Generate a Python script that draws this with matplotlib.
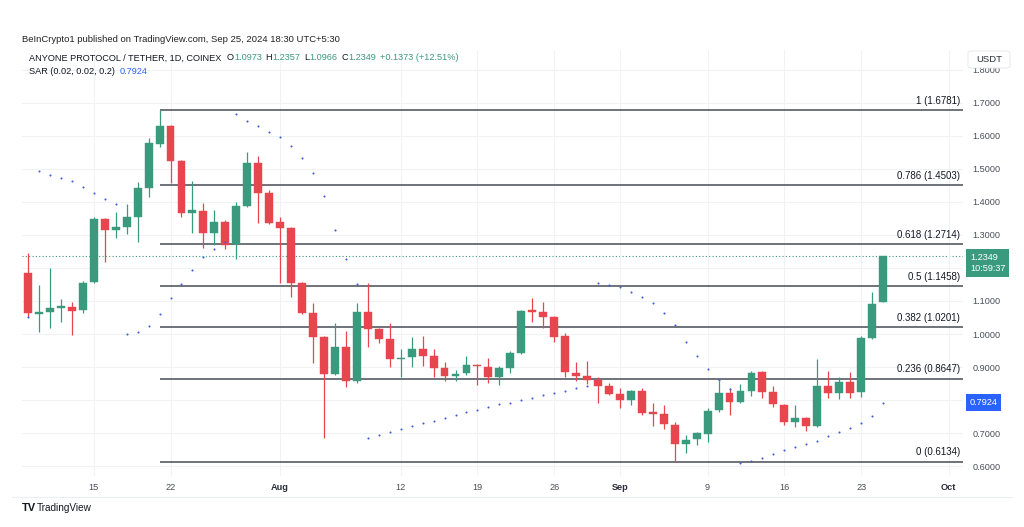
import matplotlib
matplotlib.use('Agg')
import matplotlib.pyplot as plt
import matplotlib.dates as mdates
from matplotlib.patches import FancyBboxPatch
import pandas as pd

plt.rcParams['font.family'] = ['Liberation Sans', 'DejaVu Sans']

# ---------------- data ----------------
start_date = '2024-07-09'
opens = [1.185, 1.061, 1.067, 1.080, 1.082, 1.073, 1.158, 1.348, 1.315, 1.324,
         1.355, 1.442, 1.576, 1.630, 1.524, 1.367, 1.373, 1.306, 1.339, 1.273,
         1.388, 1.518, 1.427, 1.339, 1.321, 1.155, 1.064, 0.991, 0.879, 0.961,
         0.858, 1.067, 1.015, 0.985, 0.925, 0.930, 0.955, 0.933, 0.897, 0.873,
         0.882, 0.906, 0.900, 0.870, 0.897, 0.942, 1.073, 1.067, 1.052, 0.994,
         0.882, 0.873, 0.861, 0.842, 0.818, 0.800, 0.827, 0.764, 0.758, 0.724,
         0.667, 0.682, 0.697, 0.770, 0.821, 0.794, 0.827, 0.885, 0.824, 0.785,
         0.733, 0.745, 0.721, 0.842, 0.821, 0.855, 0.824, 0.988, 1.0973]
highs = [1.245, 1.148, 1.200, 1.106, 1.097, 1.160, 1.355, 1.352, 1.370, 1.394,
         1.461, 1.594, 1.6781, 1.632, 1.526, 1.464, 1.397, 1.376, 1.345, 1.400,
         1.552, 1.539, 1.436, 1.355, 1.324, 1.158, 1.094, 0.994, 1.033, 1.009,
         1.094, 1.155, 1.018, 1.033, 0.955, 0.991, 0.994, 0.955, 0.915, 0.891,
         0.933, 0.909, 0.927, 0.903, 0.948, 1.073, 1.109, 1.097, 1.055, 1.003,
         0.915, 0.918, 0.870, 0.852, 0.836, 0.830, 0.836, 0.791, 0.785, 0.733,
         0.694, 0.703, 0.776, 0.858, 0.836, 0.850, 0.888, 0.888, 0.842, 0.788,
         0.785, 0.748, 0.924, 0.888, 0.870, 0.885, 0.994, 1.127, 1.2357]
lows = [1.052, 1.006, 1.018, 1.036, 0.997, 1.064, 1.155, 1.218, 1.291, 1.303,
        1.279, 1.415, 1.567, 1.458, 1.355, 1.306, 1.260, 1.270, 1.258, 1.227,
        1.385, 1.336, 1.333, 1.155, 1.112, 1.060, 0.912, 0.685, 0.876, 0.839,
        0.852, 0.961, 0.973, 0.900, 0.870, 0.900, 0.903, 0.870, 0.858, 0.858,
        0.876, 0.845, 0.852, 0.845, 0.882, 0.940, 1.036, 1.018, 0.976, 0.870,
        0.858, 0.848, 0.791, 0.815, 0.776, 0.785, 0.755, 0.721, 0.712, 0.6134,
        0.640, 0.664, 0.673, 0.764, 0.755, 0.790, 0.812, 0.806, 0.779, 0.724,
        0.718, 0.706, 0.718, 0.806, 0.803, 0.806, 0.809, 0.985, 1.0966]
closes = [1.064, 1.067, 1.079, 1.083, 1.070, 1.155, 1.348, 1.315, 1.324, 1.355,
          1.442, 1.579, 1.630, 1.524, 1.367, 1.376, 1.306, 1.339, 1.270, 1.388,
          1.518, 1.427, 1.336, 1.321, 1.155, 1.064, 0.991, 0.879, 0.961, 0.858,
          1.067, 1.015, 0.985, 0.924, 0.928, 0.955, 0.933, 0.897, 0.873, 0.879,
          0.906, 0.903, 0.870, 0.897, 0.942, 1.070, 1.067, 1.052, 0.991, 0.885,
          0.873, 0.861, 0.842, 0.818, 0.800, 0.827, 0.761, 0.758, 0.727, 0.667,
          0.679, 0.700, 0.767, 0.821, 0.794, 0.827, 0.882, 0.824, 0.788, 0.733,
          0.745, 0.721, 0.842, 0.821, 0.855, 0.821, 0.988, 1.091, 1.2349]
sar = [1.052,
       1.494, 1.482, 1.473, 1.464, 1.445, 1.427, 1.409, 1.394,
       1.000, 1.006, 1.024, 1.061, 1.109, 1.152, 1.194, 1.233, 1.258, 1.278,
       1.667, 1.645, 1.630, 1.612, 1.597, 1.570, 1.533, 1.488, 1.418, 1.315, 1.227, 1.152,
       0.685, 0.694, 0.703, 0.712, 0.721, 0.730, 0.736, 0.745, 0.755, 0.764, 0.770,
       0.779, 0.788, 0.791, 0.800, 0.806, 0.815, 0.821, 0.827, 0.836, 0.842,
       1.155, 1.148, 1.142, 1.127, 1.112, 1.094, 1.064, 1.027, 0.976, 0.933, 0.894, 0.862, 0.833,
       0.609, 0.615, 0.624, 0.636, 0.648, 0.658, 0.667, 0.676, 0.691, 0.703, 0.715, 0.730, 0.752, 0.7924]

fib_ratios = ['1', '0.786', '0.618', '0.5', '0.382', '0.236', '0']
fib_levels = [1.6781, 1.4503, 1.2714, 1.1458, 1.0201, 0.8647, 0.6134]
fib_start = '2024-07-21'

tick_dates = ['2024-07-15', '2024-07-22', '2024-08-01', '2024-08-12', '2024-08-19',
              '2024-08-26', '2024-09-01', '2024-09-09', '2024-09-16', '2024-09-23',
              '2024-10-01']
tick_labels = ['15', '22', 'Aug', '12', '19', '26', 'Sep', '9', '16', '23', 'Oct']
month_labels = ['Aug', 'Sep', 'Oct']
y_ticks = [0.6, 0.7, 0.8, 0.9, 1.0, 1.1, 1.2, 1.3, 1.4, 1.5, 1.6, 1.7, 1.8]
y_hidden = [0.8, 1.2]   # covered by the price / SAR labels in the reference

last_price = 1.2349
countdown = '10:59:37'
sar_last = 0.7924

header = 'BeInCrypto1 published on TradingView.com, Sep 25, 2024 18:30 UTC+5:30'
legend_pieces = [('ANYONE PROTOCOL / TETHER, 1D, COINEX', 'dark', 0),
                 ('O', 'dark', 5), ('1.0973', 'up', 0.5),
                 ('H', 'dark', 3.5), ('1.2357', 'up', 0.5),
                 ('L', 'dark', 3.5), ('1.0966', 'up', 0.5),
                 ('C', 'dark', 3.5), ('1.2349', 'up', 0.5),
                 ('+0.1373 (+12.51%)', 'up', 4)]
sar_legend = ('SAR (0.02, 0.02, 0.2)', '0.7924')

# ---------------- style ----------------
UP = '#3a9a7e'
DOWN = '#e8464f'
DARK = '#131722'
AXTXT = '#4a4f5a'
GRID = '#f0f2f6'
SARC = '#3f5bd6'
BLUE = '#2962ff'

W, H = 1024, 527
fig = plt.figure(figsize=(W / 100, H / 100), dpi=100)
fig.patch.set_facecolor('white')

ax_l, ax_r, ax_t, ax_b = 22, 963, 50, 476
ax = fig.add_axes([ax_l / W, 1 - ax_b / H, (ax_r - ax_l) / W, (ax_b - ax_t) / H])

dates = pd.date_range(start_date, periods=len(opens))
x = mdates.date2num(dates)

ax.set_xlim(x[0] - 0.55, x[-1] + 7.3)
ax.set_ylim(0.5697, 1.8606)

for s in ax.spines.values():
    s.set_visible(False)

# grid / ticks
tx = mdates.date2num(pd.to_datetime(tick_dates))
ax.set_xticks(tx)
ax.set_xticklabels(tick_labels)
ax.set_yticks(y_ticks)
ax.set_yticklabels(['' if any(abs(v - h) < 1e-9 for h in y_hidden) else f'{v:.4f}'
                    for v in y_ticks])
ax.yaxis.tick_right()
ax.grid(True, color=GRID, lw=0.8, zorder=0)
ax.tick_params(axis='y', length=0, pad=7, labelsize=6.6, labelcolor=AXTXT)
ax.tick_params(axis='x', length=0, pad=5, labelsize=6.6, labelcolor=AXTXT)
for lab in ax.get_xticklabels():
    if lab.get_text() in month_labels:
        lab.set_fontweight('bold')
        lab.set_color('#2a2e39')

# fib levels
fx0 = mdates.date2num(pd.to_datetime(fib_start))
xr = ax.get_xlim()[1]
for r, lv in zip(fib_ratios, fib_levels):
    ax.hlines(lv, fx0, xr, color='#555a62', lw=1.2, zorder=2)
    ax.annotate(f'{r} ({lv:.4f})', xy=(xr, lv), xytext=(-2, 3), textcoords='offset points',
                ha='right', va='bottom', fontsize=7, color=DARK, zorder=6)

# last price dotted line
ax.axhline(last_price, color=UP, lw=0.8, ls=(0, (1, 2)), zorder=1)

# candles
for xi, o, h, l, c in zip(x, opens, highs, lows, closes):
    col = UP if c >= o else DOWN
    ax.vlines(xi, l, h, color=col, lw=0.9, zorder=3)
    body = max(abs(c - o), 0.004)
    ax.bar(xi, body, bottom=min(o, c) if abs(c - o) >= 0.004 else (o + c) / 2 - 0.002,
           width=0.72, color=col, edgecolor=col, lw=0.3, zorder=4)

# SAR dots
ax.scatter(x, sar, s=2.2, color=SARC, zorder=5, linewidths=0)

# price axis labels
ax.annotate(f'{last_price:.4f}\n{countdown}', xy=(1.0, last_price),
            xycoords=('axes fraction', 'data'), xytext=(5, -4.5), textcoords='offset points',
            ha='left', va='center', fontsize=6.6, color='white', linespacing=1.35,
            bbox=dict(boxstyle='square,pad=0.4', fc='#3a9a7e', ec='none'),
            annotation_clip=False, zorder=10)
ax.annotate(f'{sar_last:.4f}', xy=(1.0, sar_last),
            xycoords=('axes fraction', 'data'), xytext=(5, 0), textcoords='offset points',
            ha='left', va='center', fontsize=6.6, color='white',
            bbox=dict(boxstyle='square,pad=0.4', fc=BLUE, ec='none'),
            annotation_clip=False, zorder=10)

# USDT box
fig.add_artist(FancyBboxPatch((968 / W, 1 - 68 / H), 42 / W, 17 / H,
                              boxstyle='round,pad=0,rounding_size=0.004',
                              transform=fig.transFigure, fc='white', ec='#e3e6ec', lw=0.6, zorder=20))
fig.text(989 / W, 1 - 59.5 / H, 'USDT', ha='center', va='center', fontsize=6.8,
         color='#2a2e39', zorder=21)

# faint frame
fig.add_artist(plt.Line2D([12 / W, 1012 / W], [1 - 497 / H, 1 - 497 / H], transform=fig.transFigure,
                          color='#eceef2', lw=0.8))

# header text
fig.text(22 / W, 1 - 40 / H, header, ha='left', va='center', fontsize=6.8, color='#222222')

# legend (multi-coloured)
fig.canvas.draw()
renderer = fig.canvas.get_renderer()
cur = 29
for txt, kind, gap in legend_pieces:
    cur += gap
    t = fig.text(cur / W, 1 - 58 / H, txt, ha='left', va='center', fontsize=6.6,
                 color=DARK if kind == 'dark' else UP)
    bb = t.get_window_extent(renderer=renderer)
    cur = bb.x1
t = fig.text(29 / W, 1 - 72 / H, sar_legend[0], ha='left', va='center', fontsize=6.6, color=DARK)
bb = t.get_window_extent(renderer=renderer)
fig.text((bb.x1 + 5) / W, 1 - 72 / H, sar_legend[1], ha='left', va='center', fontsize=6.6, color=BLUE)

# TradingView logo
fig.text(22 / W, 1 - 508 / H, 'TV', ha='left', va='center', fontsize=8, fontweight='bold', color='#131722')
fig.text(37 / W, 1 - 508 / H, 'TradingView', ha='left', va='center', fontsize=7.2, color='#131722')

fig.savefig('out.png', dpi=100, facecolor='white')
